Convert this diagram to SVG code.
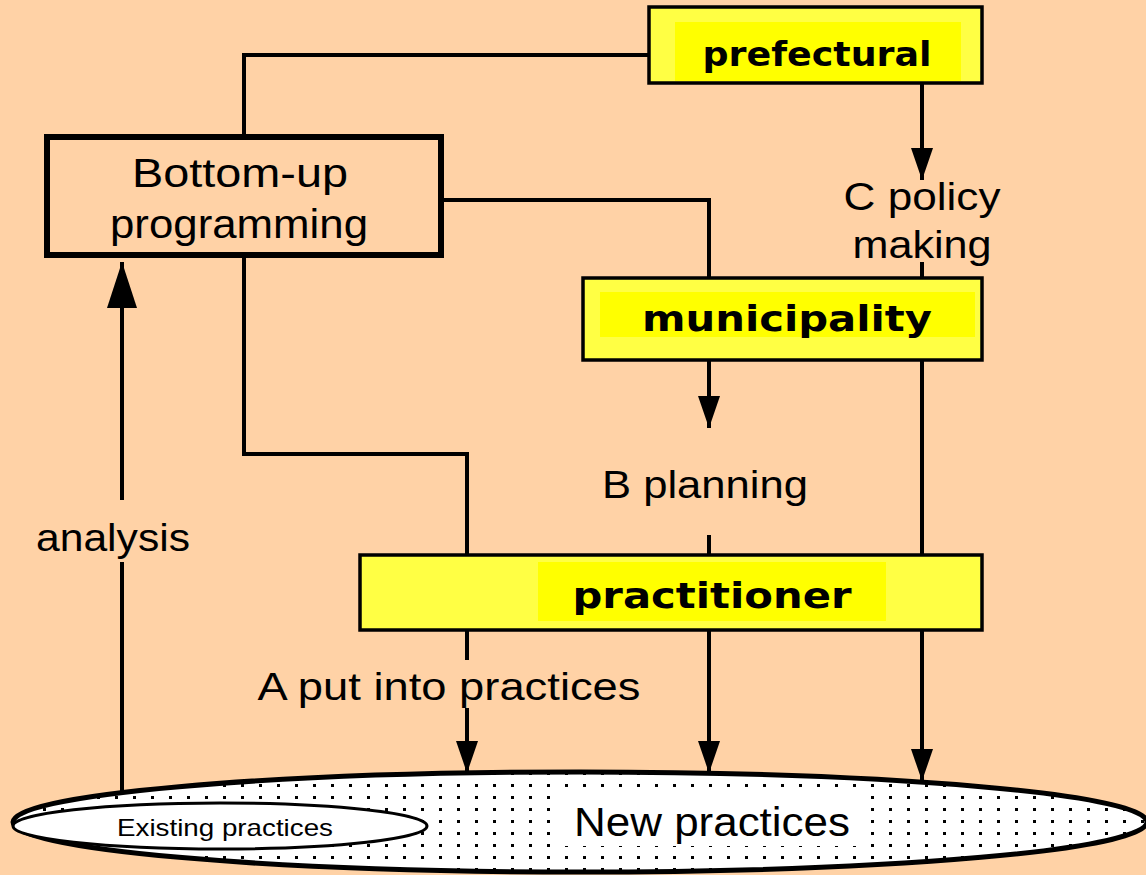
<svg xmlns="http://www.w3.org/2000/svg" width="1146" height="875" viewBox="0 0 1146 875">
  <defs>
    <style>
      .conn { fill: none; stroke: #000; stroke-width: 4; }
      .box { fill: #FFFF44; stroke: #000; stroke-width: 3.5; }
      .inner { fill: #FFFF00; }
      .bold { font-family: "DejaVu Sans", Verdana, sans-serif; font-weight: bold; fill: #000; text-anchor: middle; }
      .lbl { font-family: "Liberation Sans", Arial, sans-serif; fill: #000; text-anchor: middle; }
    </style>
    <marker id="arrow" markerUnits="userSpaceOnUse" markerWidth="34" markerHeight="24" refX="32" refY="12" orient="auto" viewBox="0 0 34 24">
      <path d="M0,1 L32,12 L0,23 Z" fill="#000"/>
    </marker>
    <marker id="arrowBig" markerUnits="userSpaceOnUse" markerWidth="48" markerHeight="32" refX="46" refY="16" orient="auto" viewBox="0 0 48 32">
      <path d="M0,1 L46,16 L0,31 Z" fill="#000"/>
    </marker>
    <pattern id="dots" patternUnits="userSpaceOnUse" width="18" height="12">
      <rect x="0" y="0" width="18" height="12" fill="#fff"/>
      <rect x="7" y="4" width="3" height="3" fill="#000"/>
    </pattern>
    <clipPath id="bigOval">
      <ellipse cx="580" cy="822" rx="567" ry="50"/>
    </clipPath>
  </defs>

  <rect x="0" y="0" width="1146" height="875" fill="#FFD2A6"/>

  <!-- connectors -->
  <g id="connectors">
    <!-- prefectural to bottom-up -->
    <path class="conn" d="M649,55 H244 V137"/>
    <!-- bottom-up to municipality -->
    <path class="conn" d="M441,200 H709 V278"/>
    <!-- prefectural down to policy making -->
    <path class="conn" d="M922,83 V180" marker-end="url(#arrow)"/>
    <path class="conn" d="M922,262 V278"/>
    <!-- municipality down to planning -->
    <path class="conn" d="M709,360 V428" marker-end="url(#arrow)"/>
    <path class="conn" d="M709,535 V555"/>
    <!-- municipality down to new practices -->
    <path class="conn" d="M922,360 V781" marker-end="url(#arrow)"/>
    <!-- bottom-up down to practitioner -->
    <path class="conn" d="M244,255 V454 H467 V555"/>
    <!-- practitioner down to new practices -->
    <path class="conn" d="M467,630 V660"/>
    <path class="conn" d="M467,708 V773" marker-end="url(#arrow)"/>
    <path class="conn" d="M709,630 V773" marker-end="url(#arrow)"/>
    <!-- analysis back to bottom-up -->
    <path class="conn" d="M122,792 V562"/>
    <path class="conn" d="M122,500 V262" marker-end="url(#arrowBig)"/>
  </g>

  <!-- practices ellipses -->
  <g id="new-practices">
    <ellipse cx="580" cy="822" rx="567" ry="50" fill="url(#dots)"/>
    <rect x="560" y="792" width="305" height="54" fill="#fff" clip-path="url(#bigOval)"/>
    <ellipse cx="580" cy="822" rx="567" ry="50" fill="none" stroke="#000" stroke-width="5"/>
    <text class="lbl" x="712" y="836" font-size="40" textLength="276" lengthAdjust="spacingAndGlyphs">New practices</text>
  </g>
  <g id="existing-practices">
    <ellipse cx="220" cy="826" rx="207" ry="23" fill="#fff" stroke="#000" stroke-width="3"/>
    <text class="lbl" x="225" y="836" font-size="24" textLength="216" lengthAdjust="spacingAndGlyphs">Existing practices</text>
  </g>

  <!-- prefectural -->
  <g id="prefectural">
    <rect class="box" x="649" y="7" width="333" height="76"/>
    <rect class="inner" x="675" y="22" width="286" height="59"/>
    <text class="bold" x="817" y="66" font-size="34" textLength="229" lengthAdjust="spacingAndGlyphs">prefectural</text>
  </g>

  <!-- bottom-up programming -->
  <g id="bottom-up">
    <rect x="47" y="137" width="394" height="118" fill="none" stroke="#000" stroke-width="6"/>
    <text class="lbl" x="240" y="187" font-size="40" textLength="216" lengthAdjust="spacingAndGlyphs">Bottom-up</text>
    <text class="lbl" x="239" y="238" font-size="40" textLength="258" lengthAdjust="spacingAndGlyphs">programming</text>
  </g>

  <!-- municipality -->
  <g id="municipality">
    <rect class="box" x="583" y="278" width="399" height="82"/>
    <rect class="inner" x="600" y="292" width="375" height="45"/>
    <text class="bold" x="787" y="331" font-size="36" textLength="290" lengthAdjust="spacingAndGlyphs">municipality</text>
  </g>

  <!-- practitioner -->
  <g id="practitioner">
    <rect class="box" x="360" y="555" width="622" height="75"/>
    <rect class="inner" x="538" y="562" width="348" height="59"/>
    <text class="bold" x="712" y="608" font-size="36" textLength="279" lengthAdjust="spacingAndGlyphs">practitioner</text>
  </g>

  <!-- step labels -->
  <g id="labels">
    <text class="lbl" x="922" y="210" font-size="38" textLength="157" lengthAdjust="spacingAndGlyphs">C policy</text>
    <text class="lbl" x="922" y="258" font-size="38" textLength="139" lengthAdjust="spacingAndGlyphs">making</text>
    <text class="lbl" x="705" y="498" font-size="38" textLength="206" lengthAdjust="spacingAndGlyphs">B planning</text>
    <text class="lbl" x="449" y="700" font-size="38" textLength="383" lengthAdjust="spacingAndGlyphs">A put into practices</text>
    <text class="lbl" x="113" y="551" font-size="38" textLength="154" lengthAdjust="spacingAndGlyphs">analysis</text>
  </g>
</svg>
